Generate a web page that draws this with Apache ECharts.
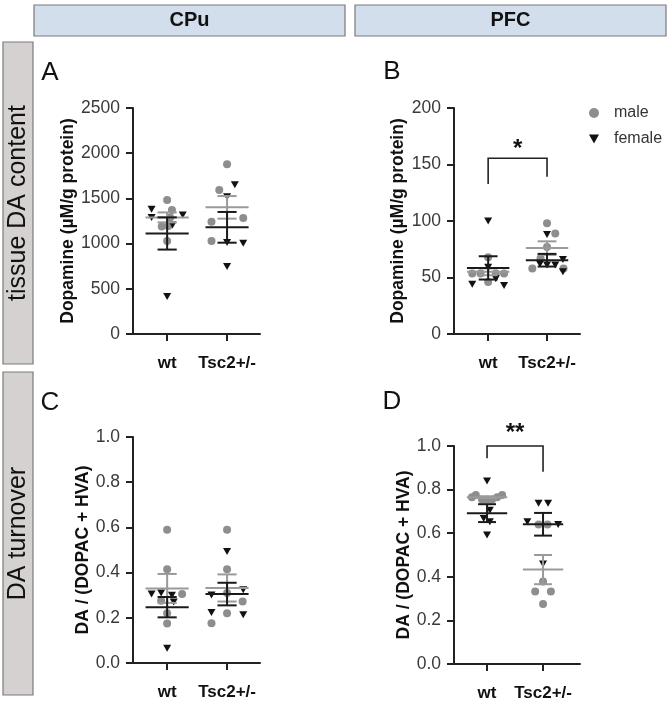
<!DOCTYPE html>
<html>
<head>
<meta charset="utf-8">
<script src="https://cdn.jsdelivr.net/npm/echarts@6/dist/echarts.min.js"></script>
<style>
  html, body { margin: 0; padding: 0; background: #fff; }
  #main { width: 669px; height: 706px; }
</style>
</head>
<body>
<div id="main"></div>
<script>
// group labels on the x axis (x = 1 for wt, x = 2 for Tsc2+/-, small offsets are the jitter)
const groups = ['wt', 'Tsc2+/-']

// A: CPu tissue DA content (µM/g protein)
const aMale = [[1, 1482], [1.08, 1371], [1.05, 1290], [0.91, 1190], [1.02, 1195], [1, 1030],
  [2, 1879], [1.87, 1592], [1.74, 1243], [2.27, 1283], [1.74, 1029]]
const aFemale = [[0.74, 1380], [0.74, 1290], [1.26, 1315], [1.09, 1205], [1, 416],
  [2.13, 1651], [2, 1518], [2, 1011], [2.27, 1004], [2, 746]]
const aMaleStats = [[1, 1290, 55], [2, 1401, 125]] // [x, mean, sem]
const aFemaleStats = [[1, 1112, 178], [2, 1180, 170]]

// B: PFC tissue DA content
const bMale = [[1, 68], [0.73, 53.5], [0.87, 53.5], [1.13, 53.5], [1.27, 53.5], [1, 46],
  [2, 98], [2.14, 89], [2, 77], [1.89, 67], [1.75, 58], [2.28, 58]]
const bFemale = [[1, 100], [1, 59], [1.13, 49], [0.73, 44], [1.27, 43],
  [2, 88], [1.88, 62], [2, 61], [2.14, 61], [2.27, 66], [2.27, 55]]
const bMaleStats = [[1, 55, 3], [2, 76, 6]]
const bFemaleStats = [[1, 58.5, 10.3], [2, 65.3, 5.6]]

// C: CPu DA turnover
const cMale = [[1, 0.59], [1, 0.415], [1.25, 0.305], [0.9, 0.275], [1, 0.22], [1, 0.175],
  [2, 0.59], [2, 0.415], [2, 0.31], [2.26, 0.272], [2, 0.22], [1.74, 0.176]]
const cFemale = [[0.74, 0.305], [0.9, 0.31], [1.08, 0.3], [1.11, 0.27], [1, 0.065],
  [2, 0.493], [1.74, 0.301], [2.27, 0.324], [1.74, 0.224], [2.27, 0.213]]
const cMaleStats = [[1, 0.33, 0.064], [2, 0.332, 0.06]]
const cFemaleStats = [[1, 0.247, 0.045], [2, 0.305, 0.05]]

// D: PFC DA turnover
const dMale = [[0.73, 0.765], [0.8, 0.775], [0.91, 0.755], [1, 0.755], [1.09, 0.755], [1.18, 0.765], [1.27, 0.775],
  [1.92, 0.64], [2.08, 0.64], [2, 0.378], [1.86, 0.332], [2.14, 0.332], [2, 0.275]]
const dFemale = [[1, 0.84], [1.05, 0.705], [0.94, 0.668], [1.05, 0.652], [1, 0.592],
  [1.92, 0.737], [2.09, 0.737], [1.72, 0.652], [2.27, 0.64], [2, 0.459]]
const dMaleStats = [[1, 0.765, 0.004], [2, 0.433, 0.067]]
const dFemaleStats = [[1, 0.692, 0.041], [2, 0.641, 0.052]]

// significance brackets: [x1, x2, top, left leg end, right leg end, star label y]
const sigB = [[1, 2, 155.5, 132.7, 139.2, 163]]
const sigD = [[1, 2, 1.0, 0.944, 0.882, 1.06]]

const FONT = 'Liberation Sans, Arial, Helvetica, sans-serif'
const GREY = '#8e8e8e'
const BLACK = '#111'

const panels = [
  { grid: { left: 133, top: 108, width: 127, height: 226 }, xmin: 0.43, xmax: 2.55, ymax: 2500, step: 500, dec: 0,
    name: 'Dopamine (µM/g protein)', gap: 56, male: aMale, female: aFemale, ms: aMaleStats, fs: aFemaleStats },
  { grid: { left: 454, top: 108, width: 126, height: 226 }, xmin: 0.42, xmax: 2.56, ymax: 200, step: 50, dec: 0,
    name: 'Dopamine (µM/g protein)', gap: 47, male: bMale, female: bFemale, ms: bMaleStats, fs: bFemaleStats, sig: sigB, star: '*' },
  { grid: { left: 133, top: 437, width: 127, height: 226 }, xmin: 0.43, xmax: 2.55, ymax: 1, step: 0.2, dec: 1,
    name: 'DA / (DOPAC + HVA)', gap: 41, male: cMale, female: cFemale, ms: cMaleStats, fs: cFemaleStats },
  { grid: { left: 454, top: 446, width: 126, height: 218 }, xmin: 0.41, xmax: 2.66, ymax: 1, step: 0.2, dec: 1,
    name: 'DA / (DOPAC + HVA)', gap: 40, male: dMale, female: dFemale, ms: dMaleStats, fs: dFemaleStats, sig: sigD, star: '**' }
]

// mean line + SEM whiskers
function errRender (color) {
  return function (params, api) {
    const x = api.value(0)
    const m = api.value(1)
    const s = api.value(2)
    const p = (xx, yy) => api.coord([xx, yy])
    const style = { stroke: color, lineWidth: 2 }
    const seg = (a, b) => ({ type: 'line', shape: { x1: a[0], y1: a[1], x2: b[0], y2: b[1] }, style })
    return {
      type: 'group',
      children: [
        seg(p(x - 0.36, m), p(x + 0.36, m)),
        seg(p(x, m - s), p(x, m + s)),
        seg(p(x - 0.16, m + s), p(x + 0.16, m + s)),
        seg(p(x - 0.16, m - s), p(x + 0.16, m - s))
      ]
    }
  }
}

function sigRender (star) {
  return function (params, api) {
    const a = api.coord([api.value(0), api.value(3)])
    const b = api.coord([api.value(0), api.value(2)])
    const c = api.coord([api.value(1), api.value(2)])
    const d = api.coord([api.value(1), api.value(4)])
    const t = api.coord([(api.value(0) + api.value(1)) / 2, api.value(5)])
    return {
      type: 'group',
      children: [
        { type: 'polyline', shape: { points: [a, b, c, d] }, style: { stroke: '#222', lineWidth: 1.6, fill: null } },
        { type: 'text', x: t[0], y: t[1], style: { text: star, fill: '#111', font: 'bold 24px ' + FONT, align: 'center', verticalAlign: 'middle' } }
      ]
    }
  }
}

const grids = []
const xAxes = []
const yAxes = []
const series = []

panels.forEach((pn, i) => {
  grids.push(Object.assign({ outerBoundsMode: 'none', containLabel: false }, pn.grid))
  xAxes.push({
    type: 'value',
    gridIndex: i,
    min: pn.xmin,
    max: pn.xmax,
    axisLine: { onZero: false, lineStyle: { color: '#222', width: 2 } },
    axisTick: { show: true, customValues: [1, 2], length: 7, lineStyle: { color: '#222', width: 2 } },
    axisLabel: {
      customValues: [1, 2],
      margin: 21,
      formatter: v => groups[Math.round(v) - 1],
      color: '#111',
      fontWeight: 'bold',
      fontSize: 17,
      fontFamily: FONT
    },
    splitLine: { show: false }
  })
  yAxes.push({
    type: 'value',
    gridIndex: i,
    min: 0,
    max: pn.ymax,
    interval: pn.step,
    name: pn.name,
    nameLocation: 'middle',
    nameGap: pn.gap,
    nameTextStyle: { color: '#111', fontWeight: 'bold', fontSize: 17.5, fontFamily: FONT },
    axisLine: { show: true, lineStyle: { color: '#222', width: 2 } },
    axisTick: { show: true, length: 7, lineStyle: { color: '#222', width: 2 } },
    axisLabel: {
      margin: 13,
      formatter: v => v.toFixed(pn.dec),
      color: '#3a3a3a',
      fontSize: 17.5,
      fontFamily: FONT
    },
    splitLine: { show: false }
  })
  series.push({
    name: 'male', type: 'scatter', xAxisIndex: i, yAxisIndex: i, data: pn.male,
    symbol: 'circle', symbolSize: 8, itemStyle: { color: GREY, opacity: 1 }, z: 2
  })
  series.push({
    name: 'female', type: 'scatter', xAxisIndex: i, yAxisIndex: i, data: pn.female,
    symbol: 'triangle', symbolRotate: 180, symbolSize: [8, 7], itemStyle: { color: BLACK, opacity: 1 }, z: 3
  })
  series.push({
    type: 'custom', xAxisIndex: i, yAxisIndex: i, data: pn.ms, renderItem: errRender('#9a9a9a'),
    encode: { x: 0, y: 1 }, z: 4, silent: true
  })
  series.push({
    type: 'custom', xAxisIndex: i, yAxisIndex: i, data: pn.fs, renderItem: errRender('#1a1a1a'),
    encode: { x: 0, y: 1 }, z: 5, silent: true
  })
  if (pn.sig) {
    series.push({
      type: 'custom', xAxisIndex: i, yAxisIndex: i, data: pn.sig, renderItem: sigRender(pn.star),
      encode: { x: [0, 1], y: 2 }, clip: false, z: 6, silent: true
    })
  }
})

const boxText = (x, y, w, h, fill, text, font, rotate) => ({
  type: 'group',
  children: [
    { type: 'rect', shape: { x: x, y: y, width: w, height: h }, style: { fill: fill, stroke: '#7a7a7a', lineWidth: 1.2 } },
    { type: 'text', x: x + w / 2, y: y + h / 2, rotation: rotate ? Math.PI / 2 : 0,
      style: { text: text, font: font, fill: '#111', align: 'center', verticalAlign: 'middle' } }
  ]
})

const letter = (t, x, y) => ({
  type: 'text', x: x, y: y,
  style: { text: t, font: '26px ' + FONT, fill: '#111', align: 'center', verticalAlign: 'middle' }
})

const chart = echarts.init(document.getElementById('main'), null, { renderer: 'canvas' })
chart.setOption({
  animation: false,
  backgroundColor: '#fff',
  grid: grids,
  xAxis: xAxes,
  yAxis: yAxes,
  legend: {
    orient: 'vertical',
    left: 584,
    top: 100,
    itemWidth: 10,
    itemHeight: 10,
    itemGap: 10,
    selectedMode: false,
    data: [
      { name: 'male', icon: 'circle' },
      { name: 'female', icon: 'path://M0,0L10,0L5,9Z' }
    ],
    textStyle: { fontSize: 16, color: '#333', fontFamily: FONT, padding: [0, 0, 0, 10] }
  },
  graphic: [
    boxText(34, 5, 311, 31, '#d3deec', 'CPu', 'bold 20px ' + FONT, false),
    boxText(355, 5, 311, 31, '#d3deec', 'PFC', 'bold 20px ' + FONT, false),
    boxText(3, 42, 30, 322, '#d6d1d1', 'tissue DA content', '25px ' + FONT, true),
    boxText(3, 372, 30, 323, '#d6d1d1', 'DA turnover', '25px ' + FONT, true),
    letter('A', 50, 73),
    letter('B', 392, 72),
    letter('C', 50, 403),
    letter('D', 392, 402)
  ],
  series: series
})
</script>
</body>
</html>
